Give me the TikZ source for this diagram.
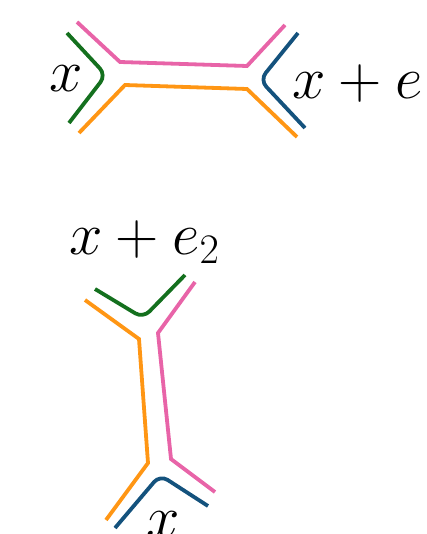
\RequirePackage{fix-cm}
\documentclass[tikz,border=0pt]{standalone}
\definecolor{cpink}{RGB}{232,100,168}
\definecolor{corange}{RGB}{255,150,20}
\definecolor{cgreen}{RGB}{20,112,30}
\definecolor{cblue}{RGB}{20,82,125}
\begin{document}
\begin{tikzpicture}[x=1pt,y=-1pt,
  strand/.style={line width=3.8pt},
  lbl/.style={inner sep=0pt,font=\fontsize{60}{68}\selectfont}]
\useasboundingbox (0,0) rectangle (427,534);
% ---- top diagram ----
\coordinate (p1) at (77,22);
\coordinate (p2) at (120,62);
\coordinate (p3) at (247,66);
\coordinate (p4) at (285,25);
\draw[strand,cpink] (p1) -- (p2) -- (p3) -- (p4);
\coordinate (o1) at (79,133);
\coordinate (o2) at (125,85);
\coordinate (o3) at (247,89);
\coordinate (o4) at (297,137);
\draw[strand,corange] (o1) -- (o2) -- (o3) -- (o4);
\coordinate (g1) at (67,33);
\coordinate (g2) at (106,75);
\coordinate (g3) at (69,123);
\draw[strand,cgreen,rounded corners=9pt] (g1) -- (g2) -- (g3);
\coordinate (b1) at (298,33);
\coordinate (b2) at (260,80);
\coordinate (b3) at (305,128);
\draw[strand,cblue,rounded corners=9pt] (b1) -- (b2) -- (b3);
\node[lbl,anchor=base] (tl) at (66,92) {$x$};
\node[lbl,anchor=base west] (tr) at (292,99) {$x+e$};
% ---- bottom diagram ----
\node[lbl,anchor=base west] (bt) at (69,254) {$x+e_2$};
\coordinate (q1) at (95,289);
\coordinate (q2) at (143,318);
\coordinate (q3) at (185,275);
\draw[strand,cgreen,rounded corners=9pt] (q1) -- (q2) -- (q3);
\coordinate (r1) at (85,300);
\coordinate (r2) at (139,339);
\coordinate (r3) at (148,463);
\coordinate (r4) at (106,520);
\draw[strand,corange] (r1) -- (r2) -- (r3) -- (r4);
\coordinate (s1) at (195,282);
\coordinate (s2) at (158,333);
\coordinate (s3) at (171,459);
\coordinate (s4) at (215,492);
\draw[strand,cpink] (s1) -- (s2) -- (s3) -- (s4);
\coordinate (u1) at (115,528);
\coordinate (u2) at (160,475);
\coordinate (u3) at (208,506);
\draw[strand,cblue,rounded corners=9pt] (u1) -- (u2) -- (u3);
\node[lbl,anchor=base] (bx) at (163,537) {$x$};
\end{tikzpicture}
\end{document}
